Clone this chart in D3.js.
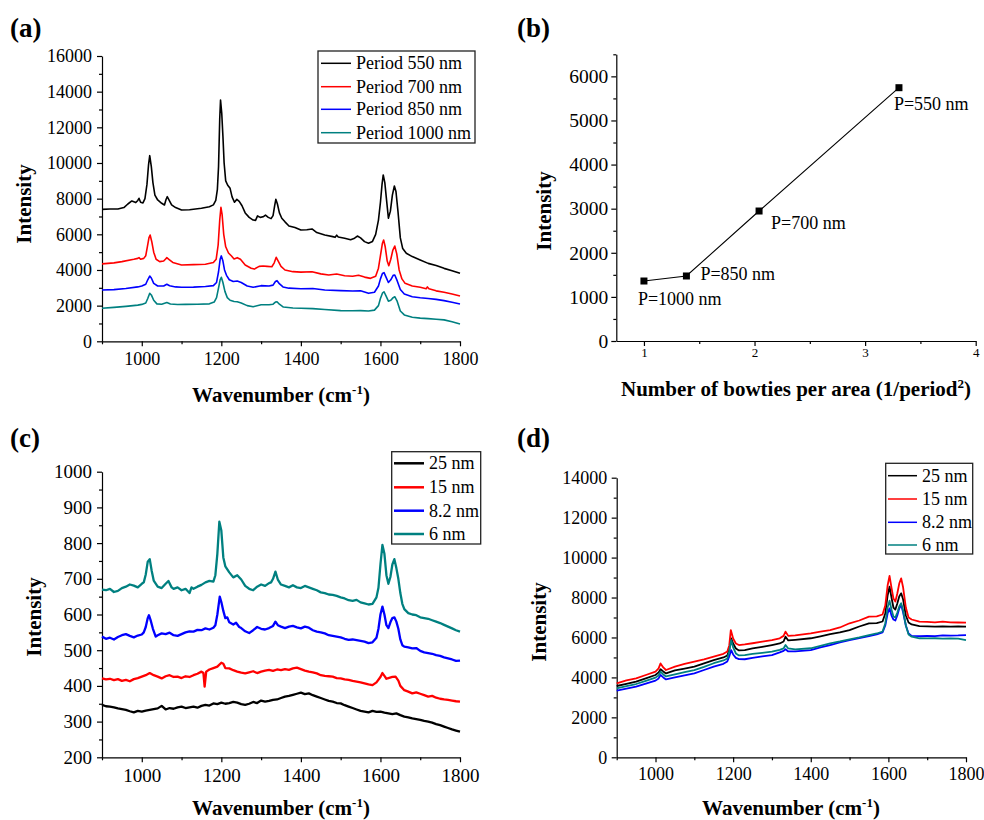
<!DOCTYPE html>
<html><head><meta charset="utf-8">
<script src="https://cdn.jsdelivr.net/npm/d3@7"></script>
<style>
body{margin:0;background:#fff}
svg{display:block}
text{font-family:"Liberation Serif","Times New Roman",serif;fill:#000}
</style>
</head><body>
<svg id="chart" width="984" height="820"></svg>
<script>
// ---------------- DATA ----------------
// Panel (a): SERS spectra for different periods  [wavenumber, intensity]
const aLabels = ["Period 550 nm","Period 700 nm","Period 850 nm","Period 1000 nm"];
const a550 = [[900,7400],[920,7420],[940,7420],[955,7500],[965,7700],[975,7870],[985,7780],[990,7900],[993,8020],[997,7800],[1003,7760],[1008,8000],[1013,8800],[1017,9900],[1020,10410],[1024,9800],[1028,8900],[1033,8200],[1040,7925],[1050,7740],[1057,7645],[1061,7950],[1064,8110],[1068,7950],[1075,7650],[1085,7500],[1100,7365],[1120,7380],[1150,7460],[1170,7550],[1180,7650],[1186,7900],[1190,8500],[1193,9800],[1196,12500],[1198,13530],[1201,12800],[1204,11500],[1207,10000],[1211,9000],[1216,8750],[1222,8580],[1227,8100],[1233,7800],[1239,7960],[1245,7850],[1252,7600],[1260,7200],[1270,6950],[1280,6800],[1286,6780],[1291,7030],[1298,6950],[1305,6980],[1311,7080],[1318,6950],[1325,6880],[1330,7050],[1334,7600],[1337,7960],[1341,7700],[1346,7200],[1352,6900],[1360,6700],[1370,6470],[1385,6380],[1400,6240],[1415,6260],[1428,6300],[1440,6100],[1460,5960],[1480,5870],[1486,5830],[1490,5950],[1494,5850],[1510,5780],[1525,5700],[1535,5780],[1542,5905],[1550,5800],[1560,5590],[1570,5500],[1580,5600],[1588,6000],[1595,6800],[1600,7800],[1604,8800],[1607,9330],[1611,8900],[1615,8000],[1620,6900],[1625,7300],[1630,8200],[1635,8710],[1639,8400],[1644,7300],[1650,5800],[1656,5200],[1665,4935],[1680,4750],[1700,4560],[1720,4370],[1740,4250],[1760,4090],[1780,3960],[1800,3810]];
const a700 = [[900,4340],[930,4400],[950,4470],[980,4600],[990,4650],[993,4690],[997,4600],[1005,4650],[1010,4800],[1014,5300],[1018,5800],[1021,5960],[1025,5600],[1030,5000],[1036,4600],[1045,4470],[1055,4500],[1060,4620],[1063,4690],[1068,4600],[1078,4420],[1100,4280],[1130,4300],[1160,4320],[1180,4420],[1187,4600],[1192,5400],[1196,6800],[1199,7510],[1202,7100],[1206,6000],[1211,5300],[1218,4950],[1225,4800],[1232,4620],[1240,4690],[1248,4600],[1260,4280],[1275,4100],[1283,4050],[1295,4200],[1305,4220],[1315,4200],[1327,4180],[1333,4400],[1338,4710],[1343,4500],[1350,4200],[1360,4000],[1380,3905],[1400,3880],[1428,3900],[1450,3780],[1470,3720],[1490,3770],[1510,3680],[1530,3650],[1545,3700],[1560,3600],[1575,3530],[1588,3650],[1595,4100],[1600,4800],[1605,5500],[1608,5680],[1612,5300],[1617,4500],[1621,4240],[1626,4600],[1631,5100],[1636,5345],[1641,4900],[1647,4000],[1654,3500],[1662,3250],[1680,3100],[1700,3030],[1715,2950],[1718,3050],[1722,2950],[1740,2830],[1760,2750],[1780,2650],[1800,2540]];
const a850 = [[900,2880],[930,2900],[960,2960],[990,3050],[1000,3100],[1010,3200],[1015,3450],[1020,3660],[1024,3550],[1030,3250],[1040,3100],[1055,3100],[1063,3200],[1070,3120],[1085,3050],[1100,3030],[1130,3040],[1160,3070],[1180,3120],[1188,3300],[1193,3900],[1197,4600],[1200,4790],[1204,4500],[1208,4000],[1213,3700],[1220,3450],[1230,3350],[1240,3380],[1250,3300],[1265,3100],[1280,3030],[1300,3120],[1320,3100],[1330,3150],[1336,3350],[1340,3400],[1345,3250],[1355,3050],[1370,2980],[1400,2950],[1430,2960],[1460,2880],[1500,2840],[1530,2820],[1550,2830],[1570,2690],[1585,2750],[1595,3100],[1600,3500],[1605,3800],[1609,3850],[1614,3600],[1620,3300],[1626,3450],[1632,3700],[1636,3720],[1642,3400],[1650,2900],[1660,2650],[1680,2500],[1700,2440],[1720,2400],[1740,2350],[1760,2280],[1780,2190],[1800,2090]];
const a1000 = [[900,1850],[930,1900],[960,1960],[990,2030],[1000,2070],[1010,2150],[1015,2400],[1020,2690],[1024,2600],[1030,2300],[1038,2100],[1050,2080],[1063,2170],[1072,2090],[1090,2060],[1110,2070],[1140,2080],[1170,2100],[1182,2200],[1188,2450],[1193,3000],[1197,3450],[1200,3590],[1204,3300],[1209,2800],[1215,2450],[1222,2300],[1232,2230],[1240,2220],[1250,2150],[1265,2000],[1280,1940],[1300,2050],[1320,2050],[1330,2080],[1336,2200],[1340,2220],[1346,2080],[1356,1920],[1380,1870],[1400,1850],[1430,1830],[1460,1780],[1500,1720],[1530,1710],[1550,1720],[1570,1700],[1585,1750],[1595,2000],[1600,2400],[1605,2700],[1609,2780],[1614,2550],[1620,2250],[1626,2300],[1632,2450],[1636,2500],[1642,2250],[1650,1700],[1660,1480],[1680,1345],[1700,1300],[1720,1270],[1740,1240],[1760,1200],[1780,1100],[1800,970]];

// Panel (b): intensity vs number of bowties per area
const bDensity = [1.0, 1.384, 2.041, 3.306];
const bIntensity = [1360, 1474, 2947, 5743];
const bLabels = ["P=1000 nm","P=850 nm","P=700 nm","P=550 nm"];

// Panel (c): spectra for different gap sizes
const cLabels = ["25 nm","15 nm","8.2 nm","6 nm"];
const c25 = [[900,347],[910,343],[920,342],[930,340],[940,337],[950,335],[960,333],[970,329],[980,326],[990,330],[1000,328],[1010,331],[1020,333],[1030,335],[1040,337],[1050,344],[1060,334],[1070,338],[1080,336],[1090,340],[1100,342],[1110,338],[1120,340],[1130,342],[1140,339],[1150,344],[1160,347],[1170,345],[1180,351],[1190,349],[1200,353],[1210,350],[1220,352],[1230,355],[1240,353],[1250,349],[1260,347],[1270,350],[1280,355],[1290,352],[1300,359],[1310,356],[1320,358],[1330,361],[1340,362],[1350,366],[1360,370],[1370,372],[1380,375],[1390,378],[1400,381],[1410,377],[1420,379],[1430,374],[1440,370],[1450,366],[1460,362],[1470,358],[1480,356],[1490,352],[1500,351],[1510,346],[1520,342],[1530,338],[1540,334],[1550,330],[1560,328],[1570,326],[1580,330],[1590,327],[1600,328],[1610,325],[1620,323],[1630,321],[1640,323],[1650,318],[1660,314],[1670,312],[1680,309],[1690,307],[1700,305],[1710,302],[1720,300],[1730,297],[1740,293],[1750,290],[1760,286],[1770,282],[1780,278],[1790,275],[1800,272]];
const c15 = [[900,421],[910,418],[920,420],[930,416],[940,419],[950,414],[960,417],[970,413],[980,419],[990,422],[1000,426],[1010,430],[1020,436],[1030,430],[1040,426],[1050,421],[1060,427],[1070,430],[1080,425],[1090,426],[1100,422],[1110,427],[1120,425],[1130,430],[1140,434],[1150,440],[1155,436],[1158,398],[1162,440],[1170,446],[1180,450],[1190,454],[1200,465],[1205,462],[1210,450],[1220,449],[1230,444],[1240,440],[1250,437],[1260,435],[1270,438],[1280,441],[1290,436],[1300,440],[1310,443],[1320,445],[1330,442],[1340,446],[1350,444],[1360,447],[1370,445],[1380,449],[1390,451],[1400,447],[1410,443],[1420,440],[1430,438],[1440,435],[1450,430],[1460,428],[1470,427],[1480,426],[1490,422],[1500,421],[1510,418],[1520,417],[1530,414],[1540,412],[1550,410],[1560,407],[1570,404],[1580,402],[1590,410],[1600,425],[1605,436],[1610,428],[1615,420],[1620,422],[1630,425],[1638,426],[1645,415],[1650,400],[1660,388],[1670,384],[1680,379],[1690,382],[1700,378],[1710,374],[1720,370],[1730,372],[1740,367],[1750,364],[1760,362],[1770,361],[1780,359],[1790,357],[1800,356]];
const c82 = [[900,538],[910,532],[920,535],[930,530],[940,537],[950,542],[960,545],[970,540],[980,536],[990,541],[1000,544],[1005,550],[1010,565],[1015,590],[1018,598],[1022,585],[1028,560],[1035,538],[1040,542],[1050,547],[1060,545],[1070,549],[1080,542],[1090,540],[1100,545],[1110,550],[1120,553],[1130,552],[1140,557],[1150,556],[1160,561],[1170,558],[1180,563],[1185,570],[1190,600],[1196,650],[1200,635],[1205,610],[1210,590],[1215,592],[1220,578],[1230,572],[1237,577],[1245,565],[1250,562],[1260,553],[1270,548],[1280,556],[1290,565],[1300,560],[1310,558],[1320,562],[1330,568],[1336,580],[1342,570],[1350,566],[1360,562],[1370,566],[1380,568],[1390,564],[1400,561],[1410,566],[1420,563],[1430,556],[1440,552],[1450,550],[1460,547],[1470,542],[1480,540],[1490,538],[1500,536],[1510,532],[1520,529],[1530,530],[1540,528],[1550,526],[1560,524],[1570,520],[1580,522],[1590,535],[1595,560],[1600,600],[1605,622],[1610,600],[1615,570],[1620,562],[1625,578],[1630,590],[1635,592],[1640,580],[1645,560],[1650,530],[1655,514],[1660,510],[1670,508],[1680,505],[1690,506],[1700,498],[1710,494],[1720,492],[1730,490],[1740,486],[1750,484],[1760,480],[1770,477],[1780,474],[1790,470],[1800,471]];
const c6 = [[900,670],[910,668],[920,672],[930,663],[940,666],[950,674],[960,678],[970,684],[980,681],[990,676],[1000,686],[1005,690],[1010,712],[1015,748],[1020,755],[1025,722],[1030,695],[1040,678],[1050,674],[1060,686],[1067,694],[1075,676],[1080,672],[1090,676],[1100,668],[1110,672],[1120,660],[1125,676],[1130,672],[1140,678],[1150,683],[1160,690],[1170,694],[1180,692],[1185,710],[1190,770],[1195,860],[1200,835],[1205,760],[1210,735],[1220,718],[1230,704],[1240,710],[1250,698],[1260,680],[1270,672],[1280,668],[1290,678],[1300,684],[1310,680],[1320,688],[1325,690],[1330,700],[1336,720],[1342,698],[1350,684],[1360,680],[1370,676],[1380,682],[1390,676],[1400,674],[1410,680],[1420,676],[1430,672],[1440,668],[1450,662],[1460,660],[1470,656],[1480,655],[1490,652],[1500,648],[1510,645],[1520,640],[1530,638],[1540,641],[1550,634],[1560,631],[1570,628],[1580,630],[1590,648],[1595,675],[1600,740],[1605,795],[1610,770],[1615,710],[1620,686],[1625,705],[1630,740],[1635,755],[1640,730],[1645,700],[1650,660],[1655,630],[1660,615],[1670,604],[1680,600],[1690,598],[1700,592],[1710,590],[1720,588],[1730,584],[1740,580],[1750,576],[1760,571],[1770,566],[1780,561],[1790,556],[1800,552]];

// Panel (d): spectra for different gap sizes (second set)
const dLabels = ["25 nm","15 nm","8.2 nm","6 nm"];
const d25 = [[900,3570],[925,3680],[950,3790],[975,3950],[1000,4120],[1008,4250],[1013,4410],[1020,4300],[1027,4200],[1050,4350],[1075,4440],[1100,4540],[1125,4700],[1150,4870],[1175,5000],[1185,5100],[1190,5400],[1195,5960],[1200,5700],[1207,5450],[1215,5350],[1230,5370],[1250,5450],[1275,5530],[1300,5620],[1320,5700],[1330,5800],[1335,6040],[1342,5850],[1360,5880],[1400,5960],[1425,6060],[1450,6170],[1475,6250],[1500,6370],[1525,6550],[1550,6710],[1570,6720],[1585,6800],[1592,7200],[1598,8100],[1603,8540],[1608,8000],[1613,7500],[1618,7400],[1623,7700],[1628,8050],[1633,8210],[1638,7900],[1645,7100],[1652,6750],[1660,6650],[1680,6570],[1700,6560],[1720,6540],[1740,6560],[1760,6540],[1780,6550],[1800,6540]];
const d15 = [[900,3700],[925,3850],[950,3950],[975,4120],[1000,4290],[1008,4450],[1013,4700],[1020,4500],[1027,4370],[1050,4540],[1075,4680],[1100,4790],[1125,4900],[1150,5040],[1175,5180],[1185,5300],[1190,5600],[1194,6370],[1200,5950],[1207,5700],[1215,5620],[1230,5650],[1250,5710],[1275,5790],[1300,5870],[1320,5960],[1330,6080],[1335,6290],[1342,6080],[1360,6100],[1400,6210],[1425,6290],[1450,6370],[1475,6500],[1500,6710],[1525,6850],[1550,7040],[1570,7060],[1585,7150],[1592,7600],[1598,8600],[1603,9080],[1608,8500],[1613,7950],[1618,7800],[1623,8200],[1628,8700],[1633,8960],[1638,8500],[1645,7500],[1652,7000],[1660,6900],[1680,6790],[1700,6780],[1720,6760],[1740,6790],[1760,6760],[1780,6750],[1800,6740]];
const d82 = [[900,3340],[925,3440],[950,3540],[975,3690],[1000,3840],[1008,3950],[1013,4120],[1020,4000],[1027,3900],[1050,4000],[1075,4100],[1100,4200],[1125,4370],[1150,4540],[1175,4680],[1185,4800],[1190,5050],[1195,5370],[1200,5150],[1207,4980],[1215,4920],[1230,4910],[1250,4980],[1275,5050],[1300,5120],[1320,5250],[1330,5330],[1335,5410],[1342,5300],[1360,5300],[1400,5370],[1425,5500],[1450,5620],[1475,5750],[1500,5870],[1525,5970],[1550,6070],[1570,6150],[1585,6250],[1592,6600],[1598,7200],[1603,7460],[1608,7100],[1613,6900],[1618,6850],[1623,7100],[1628,7450],[1633,7630],[1638,7250],[1645,6600],[1652,6200],[1660,6080],[1680,6070],[1700,6080],[1720,6070],[1740,6100],[1760,6090],[1780,6100],[1800,6120]];
const d6 = [[900,3450],[925,3560],[950,3670],[975,3830],[1000,3990],[1008,4100],[1013,4290],[1020,4150],[1027,4050],[1050,4150],[1075,4260],[1100,4370],[1125,4530],[1150,4710],[1175,4850],[1185,4950],[1190,5300],[1195,5870],[1200,5500],[1207,5200],[1215,5100],[1230,5120],[1250,5180],[1275,5230],[1300,5290],[1320,5380],[1330,5450],[1335,5620],[1342,5450],[1360,5400],[1400,5460],[1425,5580],[1450,5710],[1475,5800],[1500,5910],[1525,6000],[1550,6120],[1570,6200],[1585,6300],[1592,6700],[1598,7500],[1603,7840],[1608,7400],[1613,7050],[1618,7000],[1623,7250],[1628,7550],[1633,7710],[1638,7350],[1645,6600],[1652,6150],[1660,6040],[1680,5960],[1700,5950],[1720,5960],[1740,5940],[1760,5950],[1780,5940],[1800,5870]];

// Tick values
const wnTicks = [1000,1200,1400,1600,1800];
const wnMinor = [900,1100,1300,1500,1700];
const aYTicks = [0,2000,4000,6000,8000,10000,12000,14000,16000];
const aYMinor = [1000,3000,5000,7000,9000,11000,13000,15000];
const bXTicks = [1,2,3,4];
const bXMinor = [1.5,2.5,3.5];
const bYTicks = [0,1000,2000,3000,4000,5000,6000];
const bYMinor = [500,1500,2500,3500,4500,5500,6500];
const cYTicks = [200,300,400,500,600,700,800,900,1000];
const cYMinor = [250,350,450,550,650,750,850,950];
const dYTicks = [0,2000,4000,6000,8000,10000,12000,14000];
const dYMinor = [1000,3000,5000,7000,9000,11000,13000];

const colors = ["#000000","#ff0000","#0000ff","#008080"];

// ---------------- DRAWING ----------------
const svg = d3.select("#chart");

function panel(o) {
  const x = d3.scaleLinear().domain(o.xd).range([o.L, o.R]);
  const y = d3.scaleLinear().domain(o.yd).range([o.B, o.T]);
  const g = svg.append("g");
  g.append("g").attr("transform", `translate(0,${o.B})`)
    .call(d3.axisBottom(x).tickValues(o.xMinor).tickSize(3).tickFormat("").tickSizeOuter(0))
    .call(s => s.select(".domain").remove());
  g.append("g").attr("transform", `translate(${o.L},0)`)
    .call(d3.axisLeft(y).tickValues(o.yMinor).tickSize(3).tickFormat("").tickSizeOuter(0))
    .call(s => s.select(".domain").remove());
  const xa = g.append("g").attr("transform", `translate(0,${o.B})`)
    .call(d3.axisBottom(x).tickValues(o.xTicks).tickSize(5).tickPadding(o.xPad).tickSizeOuter(0).tickFormat(d3.format("d")));
  xa.selectAll("text").style("font-size", o.xFont + "px").attr("font-family", null);
  const ya = g.append("g").attr("transform", `translate(${o.L},0)`)
    .call(d3.axisLeft(y).tickValues(o.yTicks).tickSize(5).tickPadding(o.yPad).tickSizeOuter(0).tickFormat(d3.format("d")));
  ya.selectAll("text").style("font-size", o.yFont + "px").attr("font-family", null);
  g.selectAll(".domain, .tick line").attr("stroke", "#000").attr("stroke-width", 1.2);
  g.selectAll("text").attr("fill", "#000");
  return {x, y, g};
}

function titles(px, letter, xlab, ylab) {
  svg.append("text").attr("x", px.lx).attr("y", px.ly).style("font-size", "27px").style("font-weight", "bold").text(letter);
  const t = svg.append("text").attr("x", xlab.x).attr("y", xlab.y).attr("text-anchor", "middle")
    .style("font-size", "21px").style("font-weight", "bold");
  t.append("tspan").text(xlab.main);
  t.append("tspan").attr("dy", -8).style("font-size", "13px").text(xlab.sup);
  t.append("tspan").attr("dy", 8).text(")");
  svg.append("text").attr("transform", `translate(${ylab.x},${ylab.y}) rotate(-90)`).attr("text-anchor", "middle")
    .style("font-size", "21px").style("font-weight", "bold").text("Intensity");
}

function legend(box, labels, sw) {
  const g = svg.append("g");
  g.append("rect").attr("x", box.x0).attr("y", box.y0).attr("width", box.x1 - box.x0).attr("height", box.y1 - box.y0)
    .attr("fill", "#fff").attr("stroke", "#222").attr("stroke-width", 1.3);
  labels.forEach((lab, i) => {
    const cy = box.rows[i];
    g.append("line").attr("x1", box.lx0).attr("x2", box.lx1).attr("y1", cy).attr("y2", cy)
      .attr("stroke", colors[i]).attr("stroke-width", sw);
    g.append("text").attr("x", box.tx).attr("y", cy + 6).style("font-size", "18px").text(lab);
  });
}

function drawLines(p, series, sw) {
  const line = d3.line().x(d => p.x(d[0])).y(d => p.y(d[1]));
  series.forEach((s, i) => {
    p.g.append("path").datum(s).attr("d", line).attr("fill", "none")
      .attr("stroke", colors[i]).attr("stroke-width", sw).attr("stroke-linejoin", "round");
  });
}

// Panel (a)
const pa = panel({xd:[900,1800], yd:[0,16000], L:102, R:460, B:341.3, T:56,
  xTicks:wnTicks, xMinor:wnMinor, yTicks:aYTicks, yMinor:aYMinor, xFont:18, yFont:18, xPad:6, yPad:5});
drawLines(pa, [a550, a700, a850, a1000], 1.6);
legend({x0:318, x1:475, y0:51, y1:143, rows:[63.3,86.7,109.3,132.7], lx0:321, lx1:351, tx:356}, aLabels, 1.5);
titles({lx:10, ly:37}, "(a)", {x:281, y:402, main:"Wavenumber (cm", sup:"-1"}, {x:31, y:204});

// Panel (b)
const pb = panel({xd:[0.75,4], yd:[0,6500], L:616.3, R:975.7, B:341, T:54.3,
  xTicks:bXTicks, xMinor:bXMinor, yTicks:bYTicks, yMinor:bYMinor, xFont:13, yFont:19.5, xPad:2, yPad:3});
const bPts = bDensity.map((d, i) => [d, bIntensity[i]]);
pb.g.append("path").datum(bPts).attr("d", d3.line().x(d => pb.x(d[0])).y(d => pb.y(d[1])))
  .attr("fill", "none").attr("stroke", "#000").attr("stroke-width", 1.1);
pb.g.selectAll("rect.m").data(bPts).join("rect").attr("class", "m")
  .attr("x", d => pb.x(d[0]) - 3.5).attr("y", d => pb.y(d[1]) - 3.5).attr("width", 7).attr("height", 7).attr("fill", "#000");
const bLabOff = [[-6, 24], [14, 4], [12, 18], [-5, 22]];
pb.g.selectAll("text.pl").data(bPts).join("text").attr("class", "pl")
  .attr("x", (d, i) => pb.x(d[0]) + bLabOff[i][0]).attr("y", (d, i) => pb.y(d[1]) + bLabOff[i][1])
  .style("font-size", "18px").text((d, i) => bLabels[i]);
svg.append("text").attr("x", 517).attr("y", 37).style("font-size", "27px").style("font-weight", "bold").text("(b)");
{
  const t = svg.append("text").attr("x", 796).attr("y", 396).attr("text-anchor", "middle")
    .style("font-size", "21px").style("font-weight", "bold");
  t.append("tspan").text("Number of bowties per area (1/period");
  t.append("tspan").attr("dy", -8).style("font-size", "13px").text("2");
  t.append("tspan").attr("dy", 8).text(")");
  svg.append("text").attr("transform", "translate(551,211) rotate(-90)").attr("text-anchor", "middle")
    .style("font-size", "21px").style("font-weight", "bold").text("Intensity");
}

// Panel (c)
const pc = panel({xd:[900,1800], yd:[200,1000], L:102, R:460, B:757.3, T:471.7,
  xTicks:wnTicks, xMinor:wnMinor, yTicks:cYTicks, yMinor:cYMinor, xFont:19, yFont:19, xPad:6, yPad:5});
drawLines(pc, [c25, c15, c82, c6], 2.3);
legend({x0:391.7, x1:480.7, y0:451.7, y1:544, rows:[463.3,487.3,510.7,534], lx0:394, lx1:424, tx:429}, cLabels, 2.5);
titles({lx:10, ly:447}, "(c)", {x:281, y:815, main:"Wavenumber (cm", sup:"-1"}, {x:41, y:617});

// Panel (d)
const pd = panel({xd:[900,1800], yd:[0,14000], L:616.7, R:966, B:757.3, T:477.7,
  xTicks:wnTicks, xMinor:wnMinor, yTicks:dYTicks, yMinor:dYMinor, xFont:18, yFont:18, xPad:5, yPad:4.5});
drawLines(pd, [d25, d15, d82, d6], 1.8);
legend({x0:885.7, x1:972.7, y0:463.3, y1:554, rows:[475.7,499,522.3,545], lx0:888, lx1:917, tx:922}, dLabels, 1.5);
titles({lx:517, ly:447}, "(d)", {x:791, y:815, main:"Wavenumber (cm", sup:"-1"}, {x:546, y:622});
</script>
</body></html>
